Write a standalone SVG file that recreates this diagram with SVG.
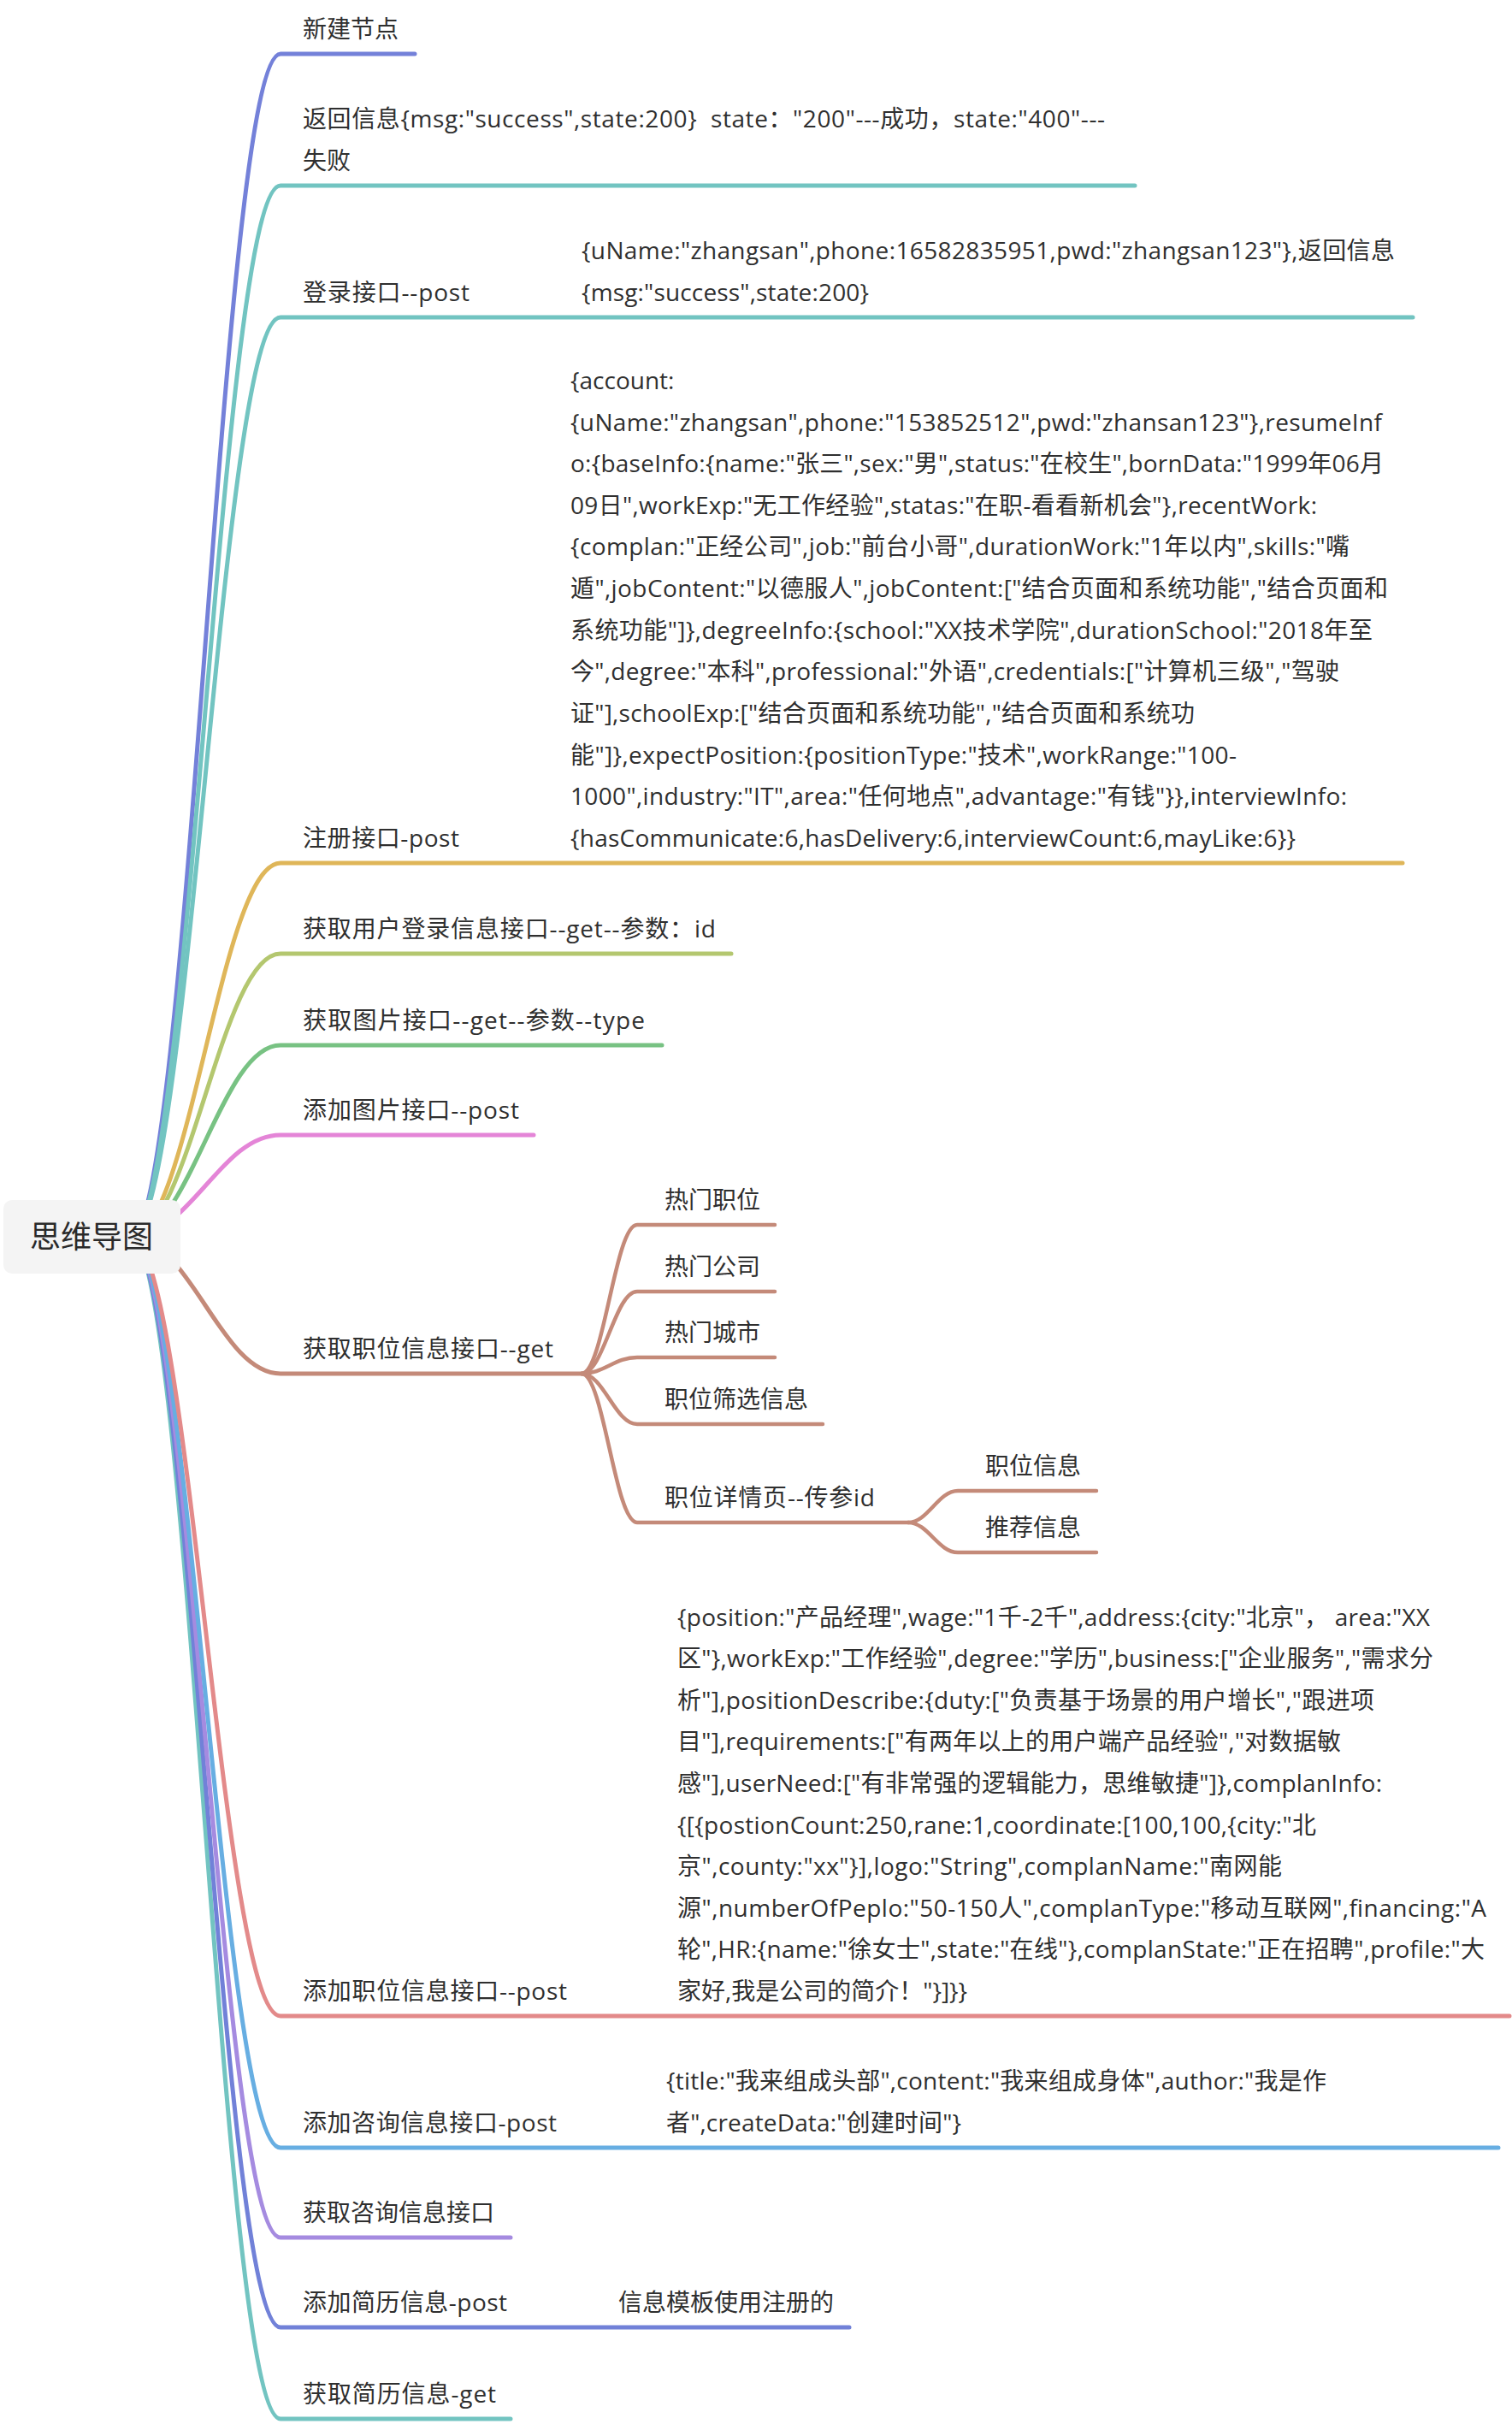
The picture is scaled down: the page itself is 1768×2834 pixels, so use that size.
<svg xmlns="http://www.w3.org/2000/svg" width="1768" height="2834" viewBox="0 0 1768 2834">
<style>
.t{font-family:'Open Sans','Noto Sans CJK SC',sans-serif;font-size:28px;fill:#2f2f2f;white-space:pre}
.root{font-family:'Noto Sans CJK SC',sans-serif;font-size:36px;fill:#2a2a2a}
.c{fill:none;stroke-width:5;stroke-linecap:round;stroke-linejoin:round}
.s{fill:none;stroke-width:4.5;stroke-linecap:round;stroke-linejoin:round;stroke:#c48a79}
</style>
<rect width="1768" height="2834" fill="#ffffff"/>
<g id="connectors">
<path class="c" stroke="#7481d9" d="M152,1446 C222,1446 258,63 328,63 L485,63"/>
<path class="c" stroke="#72c4c1" d="M152,1446 C222,1446 258,217 328,217 L1327,217"/>
<path class="c" stroke="#72c4c1" d="M152,1446 C222,1446 258,371 328,371 L1652,371"/>
<path class="c" stroke="#dfb659" d="M152,1446 C222,1446 258,1009 328,1009 L1640,1009"/>
<path class="c" stroke="#b4c76f" d="M152,1446 C222,1446 258,1115 328,1115 L855,1115"/>
<path class="c" stroke="#78c283" d="M152,1446 C222,1446 258,1222 328,1222 L774,1222"/>
<path class="c" stroke="#e485d7" d="M152,1446 C222,1446 258,1327 328,1327 L624,1327"/>
<path class="c" stroke="#72c4c1" d="M152,1446 C222,1446 258,2828 328,2828 L597,2828"/>
<path class="c" stroke="#7181d8" d="M152,1446 C222,1446 258,2721 328,2721 L993,2721"/>
<path class="c" stroke="#a58be0" d="M152,1446 C222,1446 258,2616 328,2616 L597,2616"/>
<path class="c" stroke="#67aee2" d="M152,1446 C222,1446 258,2511 328,2511 L1752,2511"/>
<path class="c" stroke="#e38a8a" d="M152,1446 C222,1446 258,2357 328,2357 L1765,2357"/>
<path class="c" stroke="#c48a79" d="M152,1446 C222,1446 258,1606 328,1606 L680,1606"/>
<path class="s" d="M680,1606 C706,1606 719,1432 745,1432 L906,1432"/>
<path class="s" d="M680,1606 C706,1606 719,1510 745,1510 L906,1510"/>
<path class="s" d="M680,1606 C706,1606 719,1587 745,1587 L906,1587"/>
<path class="s" d="M680,1606 C706,1606 719,1665 745,1665 L962,1665"/>
<path class="s" d="M680,1606 C706,1606 719,1780 745,1780 L1062,1780"/>
<path class="s" d="M1062,1780 C1085,1780 1097,1743 1120,1743 L1282,1743"/>
<path class="s" d="M1062,1780 C1085,1780 1097,1815 1120,1815 L1282,1815"/>
</g>
<g id="root">
<rect x="4" y="1403" width="207" height="86" rx="10" fill="#f4f4f4"/>
<text class="root" x="107" y="1459" text-anchor="middle">思维导图</text>
</g>
<g id="n1"><text class="t" x="354" y="44">新建节点</text></g>
<g id="n2"><text class="t" x="354" y="149" textLength="938" lengthAdjust="spacing">返回信息{msg:"success",state:200}  state："200"---成功，state:"400"---</text><text class="t" x="354" y="198">失败</text></g>
<g id="n3"><text class="t" x="354" y="352" textLength="195" lengthAdjust="spacing">登录接口--post</text>
<text class="t" x="680" y="303" textLength="951" lengthAdjust="spacing">{uName:"zhangsan",phone:16582835951,pwd:"zhangsan123"},返回信息</text>
<text class="t" x="680" y="352" textLength="336" lengthAdjust="spacing">{msg:"success",state:200}</text></g>
<g id="n4"><text class="t" x="354" y="990" textLength="183" lengthAdjust="spacing">注册接口-post</text>
<text class="t" x="667" y="455">{account:</text>
<text class="t" x="667" y="504" textLength="949" lengthAdjust="spacing">{uName:"zhangsan",phone:"153852512",pwd:"zhansan123"},resumeInf</text>
<text class="t" x="667" y="552" textLength="951" lengthAdjust="spacing">o:{baseInfo:{name:"张三",sex:"男",status:"在校生",bornData:"1999年06月</text>
<text class="t" x="667" y="601" textLength="873" lengthAdjust="spacing">09日",workExp:"无工作经验",statas:"在职-看看新机会"},recentWork:</text>
<text class="t" x="667" y="649" textLength="911" lengthAdjust="spacing">{complan:"正经公司",job:"前台小哥",durationWork:"1年以内",skills:"嘴</text>
<text class="t" x="667" y="698" textLength="956" lengthAdjust="spacing">遁",jobContent:"以德服人",jobContent:["结合页面和系统功能","结合页面和</text>
<text class="t" x="667" y="747" textLength="938" lengthAdjust="spacing">系统功能"]},degreeInfo:{school:"XX技术学院",durationSchool:"2018年至</text>
<text class="t" x="667" y="795" textLength="899" lengthAdjust="spacing">今",degree:"本科",professional:"外语",credentials:["计算机三级","驾驶</text>
<text class="t" x="667" y="844" textLength="730" lengthAdjust="spacing">证"],schoolExp:["结合页面和系统功能","结合页面和系统功</text>
<text class="t" x="667" y="893" textLength="779" lengthAdjust="spacing">能"]},expectPosition:{positionType:"技术",workRange:"100-</text>
<text class="t" x="667" y="941" textLength="908" lengthAdjust="spacing">1000",industry:"IT",area:"任何地点",advantage:"有钱"}},interviewInfo:</text>
<text class="t" x="667" y="990" textLength="848" lengthAdjust="spacing">{hasCommunicate:6,hasDelivery:6,interviewCount:6,mayLike:6}}</text></g>
<g id="n5"><text class="t" x="354" y="1096" textLength="483" lengthAdjust="spacing">获取用户登录信息接口--get--参数：id</text></g>
<g id="n6"><text class="t" x="354" y="1203" textLength="400" lengthAdjust="spacing">获取图片接口--get--参数--type</text></g>
<g id="n7"><text class="t" x="354" y="1308" textLength="253" lengthAdjust="spacing">添加图片接口--post</text></g>
<g id="n8"><text class="t" x="354" y="1587" textLength="293" lengthAdjust="spacing">获取职位信息接口--get</text></g>
<g id="n8a"><text class="t" x="777" y="1413">热门职位</text></g>
<g id="n8b"><text class="t" x="777" y="1491">热门公司</text></g>
<g id="n8c"><text class="t" x="777" y="1568">热门城市</text></g>
<g id="n8d"><text class="t" x="777" y="1646">职位筛选信息</text></g>
<g id="n8e"><text class="t" x="777" y="1761" textLength="246" lengthAdjust="spacing">职位详情页--传参id</text></g>
<g id="n8e1"><text class="t" x="1152" y="1724">职位信息</text></g>
<g id="n8e2"><text class="t" x="1152" y="1796">推荐信息</text></g>
<g id="n9"><text class="t" x="354" y="2338" textLength="309" lengthAdjust="spacing">添加职位信息接口--post</text>
<text class="t" x="792" y="1901" textLength="880" lengthAdjust="spacing">{position:"产品经理",wage:"1千-2千",address:{city:"北京"， area:"XX</text>
<text class="t" x="792" y="1949" textLength="884" lengthAdjust="spacing">区"},workExp:"工作经验",degree:"学历",business:["企业服务","需求分</text>
<text class="t" x="792" y="1998" textLength="815" lengthAdjust="spacing">析"],positionDescribe:{duty:["负责基于场景的用户增长","跟进项</text>
<text class="t" x="792" y="2046" textLength="776" lengthAdjust="spacing">目"],requirements:["有两年以上的用户端产品经验","对数据敏</text>
<text class="t" x="792" y="2095" textLength="824" lengthAdjust="spacing">感"],userNeed:["有非常强的逻辑能力，思维敏捷"]},complanInfo:</text>
<text class="t" x="792" y="2144" textLength="747" lengthAdjust="spacing">{[{postionCount:250,rane:1,coordinate:[100,100,{city:"北</text>
<text class="t" x="792" y="2192" textLength="707" lengthAdjust="spacing">京",county:"xx"}],logo:"String",complanName:"南网能</text>
<text class="t" x="792" y="2241" textLength="946" lengthAdjust="spacing">源",numberOfPeplo:"50-150人",complanType:"移动互联网",financing:"A</text>
<text class="t" x="792" y="2289" textLength="944" lengthAdjust="spacing">轮",HR:{name:"徐女士",state:"在线"},complanState:"正在招聘",profile:"大</text>
<text class="t" x="792" y="2338">家好,我是公司的简介！"}]}}</text></g>
<g id="n10"><text class="t" x="354" y="2492" textLength="297" lengthAdjust="spacing">添加咨询信息接口-post</text>
<text class="t" x="779" y="2443" textLength="772" lengthAdjust="spacing">{title:"我来组成头部",content:"我来组成身体",author:"我是作</text>
<text class="t" x="779" y="2492" textLength="345" lengthAdjust="spacing">者",createData:"创建时间"}</text></g>
<g id="n11"><text class="t" x="354" y="2597">获取咨询信息接口</text></g>
<g id="n12"><text class="t" x="354" y="2702" textLength="239" lengthAdjust="spacing">添加简历信息-post</text>
<text class="t" x="723" y="2702">信息模板使用注册的</text></g>
<g id="n13"><text class="t" x="354" y="2809" textLength="226" lengthAdjust="spacing">获取简历信息-get</text></g>
</svg>
